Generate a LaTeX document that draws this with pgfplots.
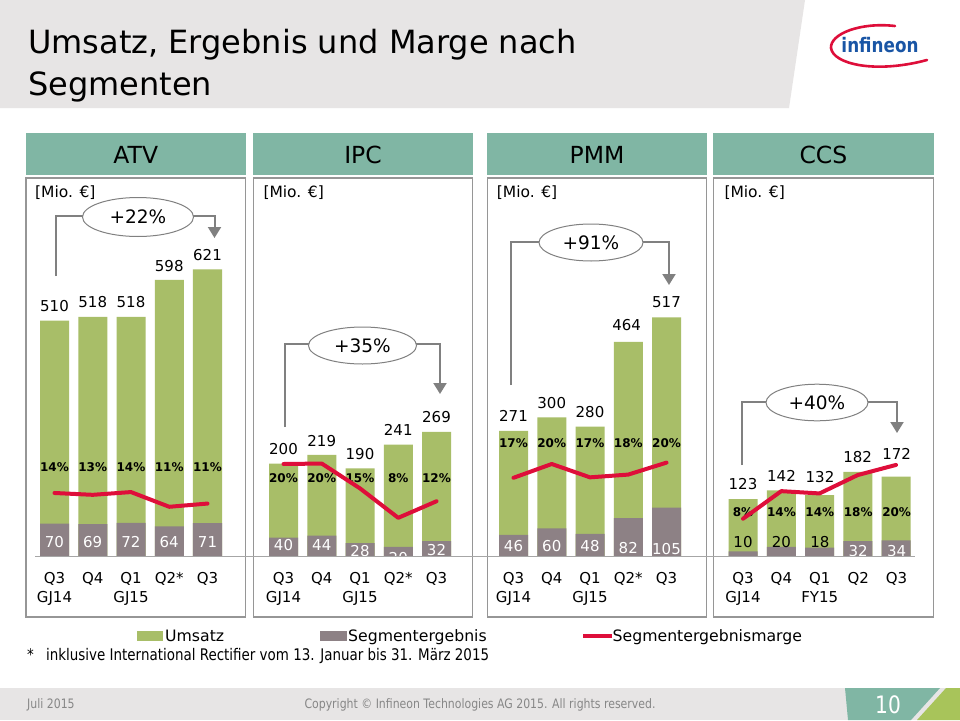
\documentclass[border=0pt]{standalone}
\usepackage{fontspec}
\setmainfont{DejaVu Sans}
\newfontfamily\condfont[FakeStretch=0.84]{DejaVu Sans}
\usepackage{pgfplots}
\usepackage{pgfplotstable}
\pgfplotsset{compat=1.18}
\usetikzlibrary{arrows.meta}

\definecolor{umsatz}{RGB}{168,190,104}
\definecolor{ergeb}{RGB}{141,129,133}
\definecolor{marge}{RGB}{222,14,58}
\definecolor{head}{RGB}{128,182,164}
\definecolor{bggray}{RGB}{231,229,229}
\definecolor{boxline}{RGB}{150,150,150}
\definecolor{arrowgray}{RGB}{128,128,128}
\definecolor{ifxblue}{RGB}{25,85,165}
\definecolor{footgreen}{RGB}{168,196,90}
\definecolor{foottext}{RGB}{135,135,135}

% q = quarter index, u = Umsatz, e = Segmentergebnis, m = Marge in %
\pgfplotstableread{
q u e m
0 510 70 13.7
1 518 69 13.3
2 518 72 13.9
3 598 64 10.7
4 621 71 11.4
}\atv
\pgfplotstableread{
q u e m
0 200 40 20.0
1 219 44 20.1
2 190 28 14.7
3 241 20 8.3
4 269 32 11.9
}\ipc
\pgfplotstableread{
q u e m
0 271 46 17.0
1 300 60 20.0
2 280 48 17.1
3 464 82 17.7
4 517 105 20.3
}\pmm
\pgfplotstableread{
q u e m
0 123 10 8.1
1 142 20 14.1
2 132 18 13.6
3 182 32 17.6
4 172 34 19.8
}\ccs

\pgfplotsset{
  barax/.style={scale only axis, width=153pt, height=461.7pt, xmin=0, xmax=4,
    ymin=0, ymax=1000, hide axis, clip=false, anchor=south west},
  marax/.style={scale only axis, width=153pt, height=460pt, xmin=0, xmax=4,
    ymin=0, ymax=100, hide axis, clip=false, anchor=south west},
}
\newcommand{\bars}[2]{%
  \begin{axis}[barax, at={(#1pt,-556pt)}]
    \addplot[ybar, bar width=29pt, bar shift=0pt, fill=umsatz, draw=none] table[x=q,y=u]{#2};
    \addplot[ybar, bar width=29pt, bar shift=0pt, fill=ergeb, draw=none] table[x=q,y=e]{#2};
  \end{axis}}
\newcommand{\margin}[2]{%
  \begin{axis}[marax, at={(#1pt,-556pt)}]
    \addplot[marge, line width=4pt, line join=round, line cap=round, mark=none] table[x=q,y=m]{#2};
  \end{axis}}

\tikzset{
  t15/.style={font=\fontsize{15}{18}\selectfont, inner sep=0pt, text height=10.9pt, text depth=0pt},
  b12/.style={font=\fontsize{12}{14}\selectfont\bfseries, inner sep=0pt, text height=8.75pt, text depth=0pt},
  ann/.style={draw=arrowgray, line width=2pt},
  annarrow/.style={draw=arrowgray, line width=2pt, -{Triangle[width=13pt,length=11pt]}},
  ell/.style={draw=arrowgray, line width=1pt, fill=white},
  pct/.style={font=\fontsize{18.5}{20}\selectfont, inner sep=0pt, text height=13.5pt, text depth=0pt},
}

\begin{document}
\begin{tikzpicture}[x=1pt,y=-1pt]
\fill[white] (0,0) rectangle (960,720);
% header band
\fill[bggray] (0,0) -- (805,0) -- (789,108) -- (0,108) -- cycle;
\node[anchor=base west, inner sep=0pt, font=\fontsize{32}{38}\selectfont] at (28,53.5) {Umsatz, Ergebnis und Marge nach};
\node[anchor=base west, inner sep=0pt, font=\fontsize{32}{38}\selectfont] at (28,95.5) {Segmenten};
% logo
\draw[marge, line width=2.6pt, line cap=round] (895,26) .. controls (860,22) and (830,34) .. (831,48)
  .. controls (833,64) and (875,74) .. (927,60);
\node[font=\condfont\bfseries\fontsize{20}{22}\selectfont, text=ifxblue, inner sep=0pt] at (880,45) {infineon};

% headers and boxes
\foreach \a/\b/\nm in {26/245.5/ATV, 253.3/472.7/IPC, 487.3/706.7/PMM, 713.3/933.5/CCS} {
  \fill[head] (\a,133) rectangle (\b,175);
  \node[font=\fontsize{23.5}{26}\selectfont, inner sep=0pt, text height=17pt, text depth=0pt] at ({(\a+\b)/2},155) {\nm};
  \draw[boxline, line width=1.3pt] (\a,178) rectangle (\b,617);
}
\foreach \x in {35,263.3,496.7,724.3}
  \node[anchor=west, inner sep=0pt, font=\fontsize{15.5}{18}\selectfont] at (\x,193) {[Mio. €]};

% bars
\bars{54.5}{\atv}
\bars{283.5}{\ipc}
\bars{513.5}{\pmm}
\bars{743}{\ccs}

% Umsatz labels
\node[t15] at (54.5,305.7) {510};
\node[t15] at (92.75,302) {518};
\node[t15] at (131,302) {518};
\node[t15] at (169.25,265.7) {598};
\node[t15] at (207.5,255) {621};
\node[t15] at (283.5,449.3) {200};
\node[t15] at (321.75,440.7) {219};
\node[t15] at (360,454) {190};
\node[t15] at (398.25,430) {241};
\node[t15] at (436.5,417.3) {269};
\node[t15] at (513.5,416) {271};
\node[t15] at (551.75,403.3) {300};
\node[t15] at (590,412.3) {280};
\node[t15] at (626.7,325) {464};
\node[t15] at (666.5,302.3) {517};
\node[t15] at (743,484.3) {123};
\node[t15] at (781.5,476) {142};
\node[t15] at (820,477) {132};
\node[t15] at (857.7,457.3) {182};
\node[t15] at (896.7,454) {172};

% margin labels
\foreach \x/\t in {54.5/14\%, 92.75/13\%, 131/14\%, 169.25/11\%, 207.5/11\%}
  \node[b12] at (\x,467) {\t};
\foreach \x/\t in {283.5/20\%, 321.75/20\%, 360/15\%, 398.25/8\%, 436.5/12\%}
  \node[b12] at (\x,477.7) {\t};
\foreach \x/\t in {513.5/17\%, 551.75/20\%, 590/17\%, 628.25/18\%, 666.5/20\%}
  \node[b12] at (\x,443) {\t};
\foreach \x/\t in {743/8\%, 781.4/14\%, 819.8/14\%, 858.2/18\%, 896.6/20\%}
  \node[b12] at (\x,512) {\t};

% Segmentergebnis labels
\foreach \x/\t in {54.5/70, 92.75/69, 131/72, 169.25/64, 207.5/71}
  \node[t15, text=white] at (\x,541.7) {\t};
\node[t15, text=white] at (283.5,545) {40};
\node[t15, text=white] at (321.75,545) {44};
\node[t15, text=white] at (360,551) {28};
\node[t15, text=white] at (398.25,558.5) {20};
\node[t15, text=white] at (436.5,550) {32};
\node[t15, text=white] at (513.5,545.7) {46};
\node[t15, text=white] at (551.75,545.7) {60};
\node[t15, text=white] at (590,545.7) {48};
\node[t15, text=white] at (628.25,548.3) {82};
\node[t15, text=white] at (666.5,549.3) {105};
\node[t15] at (743,541.7) {10};
\node[t15] at (781.4,541.7) {20};
\node[t15] at (819.8,541.7) {18};
\node[t15, text=white] at (858.2,551) {32};
\node[t15, text=white] at (896.6,550.7) {34};

% baseline
\draw[black!35, line width=0.8pt] (35,556) -- (915,556);

% margin lines
\margin{54.5}{\atv}
\margin{283.5}{\ipc}
\margin{513.5}{\pmm}
\margin{743}{\ccs}

% x labels
\foreach \o/\yr in {54.5/GJ15, 283.5/GJ15, 513.5/GJ15} {
  \node[t15] at (\o,578.3) {Q3};
  \node[t15] at ({\o+38.25},578.3) {Q4};
  \node[t15] at ({\o+76.5},578.3) {Q1};
  \node[t15] at ({\o+114.75},578.3) {Q2*};
  \node[t15] at ({\o+153},578.3) {Q3};
  \node[t15] at (\o,597.3) {GJ14};
  \node[t15] at ({\o+76.5},597.3) {\yr};
}
\node[t15] at (743,578.3) {Q3};
\node[t15] at (781.4,578.3) {Q4};
\node[t15] at (819.8,578.3) {Q1};
\node[t15] at (858.2,578.3) {Q2};
\node[t15] at (896.6,578.3) {Q3};
\node[t15] at (743,597.3) {GJ14};
\node[t15] at (819.8,597.3) {FY15};

% growth annotations
\draw[ann] (56,276) -- (56,216) -- (83,216);
\draw[annarrow] (193,216) -- (214.5,216) -- (214.5,238);
\draw[ell] (138,217) ellipse [x radius=55.5, y radius=19.5];
\node[pct] at (138,217) {+22\%};

\draw[ann] (285,427) -- (285,344) -- (309,344);
\draw[annarrow] (416,344) -- (440,344) -- (440,394);
\draw[ell] (362.5,345.5) ellipse [x radius=54, y radius=18.5];
\node[pct] at (362.5,345.5) {+35\%};

\draw[ann] (510.7,385) -- (510.7,241.5) -- (540,241.5);
\draw[annarrow] (642,241.5) -- (669,241.5) -- (669,285);
\draw[ell] (591,242.5) ellipse [x radius=52, y radius=18.5];
\node[pct] at (591,242.5) {+91\%};

\draw[ann] (742,465) -- (742,402) -- (767,402);
\draw[annarrow] (867,402) -- (897,402) -- (897,433);
\draw[ell] (817,402.5) ellipse [x radius=51, y radius=18.3];
\node[pct] at (817,402.5) {+40\%};

% legend
\fill[umsatz] (137,631) rectangle (163,640.5);
\node[anchor=west, inner sep=0pt, font=\fontsize{15.7}{18}\selectfont, text height=11.4pt, text depth=0pt] at (165,635.7) {Umsatz};
\fill[ergeb] (320,631) rectangle (346.5,640.5);
\node[anchor=west, inner sep=0pt, font=\fontsize{15.7}{18}\selectfont, text height=11.4pt, text depth=0pt] at (348,635.7) {Segmentergebnis};
\draw[marge, line width=4pt] (583,635.7) -- (611.5,635.7);
\node[anchor=west, inner sep=0pt, font=\fontsize{15.7}{18}\selectfont, text height=11.4pt, text depth=0pt] at (612.5,635.7) {Segmentergebnismarge};

% footnote
\node[anchor=base west, inner sep=0pt, font=\condfont\fontsize{16}{18}\selectfont] at (27,660) {*};
\node[anchor=base west, inner sep=0pt, font=\condfont\fontsize{16}{18}\selectfont] at (46,660) {inklusive International Rectifier vom 13. Januar bis 31. März 2015};

% footer
\fill[bggray] (0,688) rectangle (960,720);
\node[anchor=west, inner sep=0pt, font=\condfont\fontsize{13}{15}\selectfont, text=foottext] at (27,705) {Juli 2015};
\node[inner sep=0pt, font=\condfont\fontsize{13}{15}\selectfont, text=foottext] at (480,705) {Copyright © Infineon Technologies AG 2015. All rights reserved.};
\fill[head] (845,688) -- (940,688) -- (911,720) -- (848,720) -- cycle;
\fill[footgreen] (946,688) -- (960,688) -- (960,720) -- (917,720) -- cycle;
\node[inner sep=0pt, font=\condfont\fontsize{24}{26}\selectfont, text=white] at (888,705) {10};

\pgfresetboundingbox
\path[use as bounding box] (0,0) rectangle (960,720);
\end{tikzpicture}
\end{document}
